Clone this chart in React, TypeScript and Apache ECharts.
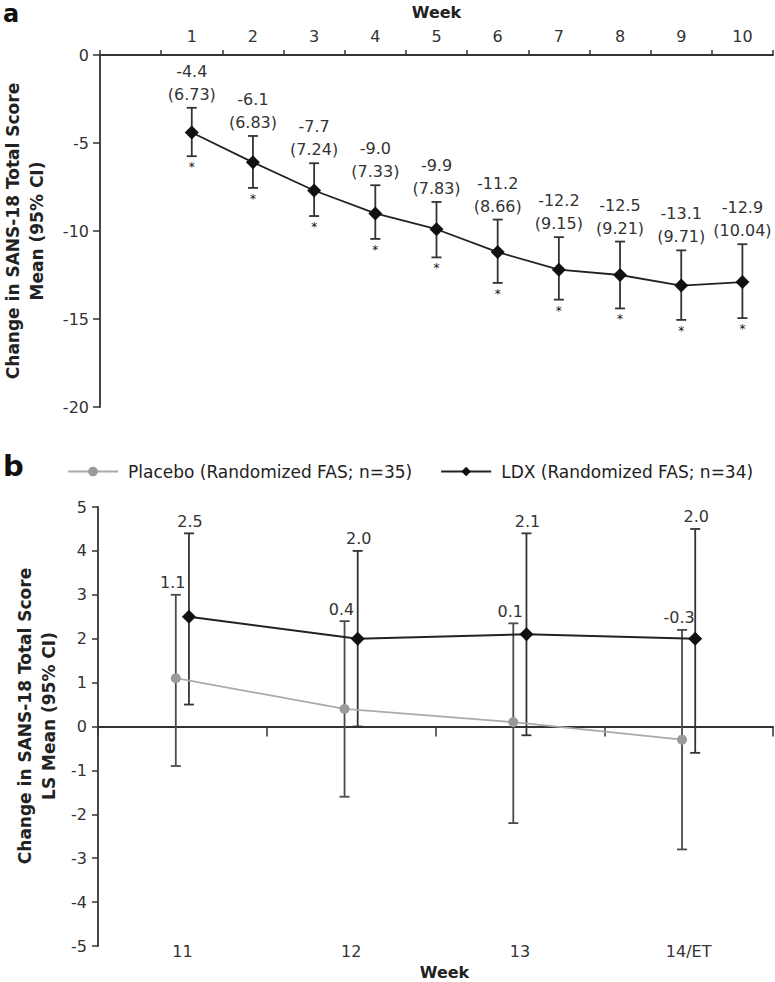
import React, { useEffect, useRef } from "react";
import * as echarts from "echarts";

const FONT = "'DejaVu Sans', sans-serif";

// ---------- Panel a data ----------
const weeksA = ["1", "2", "3", "4", "5", "6", "7", "8", "9", "10"];
const meanA = [-4.4, -6.1, -7.7, -9.0, -9.9, -11.2, -12.2, -12.5, -13.1, -12.9];
const sdA = ["6.73", "6.83", "7.24", "7.33", "7.83", "8.66", "9.15", "9.21", "9.71", "10.04"];
const ciLowA = [-5.75, -7.55, -9.15, -10.45, -11.5, -12.95, -13.9, -14.4, -15.05, -14.95];
const ciHighA = [-3.0, -4.6, -6.15, -7.4, -8.35, -9.35, -10.35, -10.6, -11.1, -10.75];

// ---------- Panel b data ----------
const weeksB = ["11", "12", "13", "14/ET"];
const placeboName = "Placebo (Randomized FAS; n=35)";
const ldxName = "LDX (Randomized FAS; n=34)";
const placeboMean = [1.1, 0.4, 0.1, -0.3];
const placeboLow = [-0.9, -1.6, -2.2, -2.8];
const placeboHigh = [3.0, 2.4, 2.35, 2.2];
const ldxMean = [2.5, 2.0, 2.1, 2.0];
const ldxLow = [0.5, 0.0, -0.2, -0.6];
const ldxHigh = [4.4, 4.0, 4.4, 4.5];
const DODGE = 0.039;

const AXIS_COLOR = "#333";

export default function App() {
  const ref = useRef<HTMLDivElement>(null);

  useEffect(() => {
    document.body.style.margin = "0";
    const chart = echarts.init(ref.current!, null, { renderer: "svg" });

    const errorBars = (
      lows: number[],
      highs: number[],
      color: string,
      labelFn: (i: number) => string,
      labelDx: number,
      labelGap: number,
      lineHeight: number,
      asterisk: boolean
    ) => (params: any, api: any) => {
      const i = params.dataIndex;
      const xv = api.value(0);
      const lo = api.coord([xv, lows[i]]);
      const hi = api.coord([xv, highs[i]]);
      const x = lo[0];
      const cap = 5;
      const style = { stroke: color, lineWidth: 1.8 };
      const children: any[] = [
        { type: "line", shape: { x1: x, y1: lo[1], x2: x, y2: hi[1] }, style },
        { type: "line", shape: { x1: x - cap, y1: lo[1], x2: x + cap, y2: lo[1] }, style },
        { type: "line", shape: { x1: x - cap, y1: hi[1], x2: x + cap, y2: hi[1] }, style },
        {
          type: "text",
          x: x + labelDx,
          y: hi[1] - labelGap,
          style: {
            text: labelFn(i),
            align: "center",
            verticalAlign: "bottom",
            fontSize: 16,
            fontFamily: FONT,
            lineHeight,
            fill: "#333",
          },
        },
      ];
      if (asterisk) {
        children.push({
          type: "text",
          x,
          y: lo[1] + 5,
          style: {
            text: "*",
            align: "center",
            verticalAlign: "top",
            fontSize: 12,
            fontFamily: FONT,
            fill: "#111",
          },
        });
      }
      return { type: "group", children };
    };

    const tickLabel = { fontFamily: FONT, fontSize: 16, color: "#333" };

    chart.setOption({
      animation: false,
      backgroundColor: "#fff",
      grid: [
        { left: 100, top: 55, width: 673, height: 352 },
        { left: 98, top: 507, width: 675, height: 439 },
      ],
      legend: {
        left: 62,
        top: 458,
        width: 713,
        itemWidth: 50,
        itemHeight: 12,
        itemGap: 28,
        textStyle: { fontFamily: FONT, fontSize: 17, color: "#222", padding: [0, 0, 0, 5] },
        data: [placeboName, ldxName],
      },
      xAxis: [
        {
          gridIndex: 0,
          type: "category",
          position: "top",
          data: ["", ...weeksA],
          boundaryGap: true,
          name: "Week",
          nameLocation: "middle",
          nameGap: 35,
          nameTextStyle: { fontFamily: FONT, fontSize: 16, fontWeight: "bold", color: "#222" },
          axisLine: { lineStyle: { color: AXIS_COLOR, width: 1.8 } },
          axisTick: { show: true, length: 5, lineStyle: { color: AXIS_COLOR, width: 1.5 } },
          axisLabel: { ...tickLabel, margin: 11, interval: 0 },
          splitLine: { show: false },
        },
        {
          gridIndex: 1,
          type: "category",
          data: weeksB,
          boundaryGap: true,
          axisLine: { onZero: true, lineStyle: { color: AXIS_COLOR, width: 1.8 } },
          axisTick: { show: true, length: 10, lineStyle: { color: AXIS_COLOR, width: 1.5 } },
          axisLabel: { show: false },
          splitLine: { show: false },
        },
        {
          gridIndex: 1,
          type: "category",
          position: "bottom",
          data: weeksB,
          boundaryGap: true,
          name: "Week",
          nameLocation: "middle",
          nameGap: 18,
          nameTextStyle: {
            fontFamily: FONT,
            fontSize: 16,
            fontWeight: "bold",
            color: "#222",
            padding: [0, 0, 0, 18],
          },
          axisLine: { show: false, onZero: false },
          axisTick: { show: false },
          axisLabel: { ...tickLabel, margin: -3, interval: 0 },
          splitLine: { show: false },
        },
        {
          gridIndex: 1,
          type: "value",
          min: 0.5,
          max: 4.5,
          show: false,
          splitLine: { show: false },
        },
      ],
      yAxis: [
        {
          gridIndex: 0,
          type: "value",
          min: -20,
          max: 0,
          interval: 5,
          axisLine: { show: true, lineStyle: { color: AXIS_COLOR, width: 1.8 } },
          axisTick: { show: true, length: 7, lineStyle: { color: AXIS_COLOR, width: 1.5 } },
          axisLabel: { ...tickLabel, margin: 11 },
          splitLine: { show: false },
        },
        {
          gridIndex: 1,
          type: "value",
          min: -5,
          max: 5,
          interval: 1,
          axisLine: { show: true, onZero: false, lineStyle: { color: AXIS_COLOR, width: 1.8 } },
          axisTick: { show: true, length: 6, lineStyle: { color: AXIS_COLOR, width: 1.5 } },
          axisLabel: { ...tickLabel, margin: 11 },
          splitLine: { show: false },
        },
      ],
      series: [
        // Panel a
        {
          type: "custom",
          xAxisIndex: 0,
          yAxisIndex: 0,
          data: weeksA.map((w, i) => [w, meanA[i]]),
          renderItem: errorBars(
            ciLowA,
            ciHighA,
            "#333",
            (i) => `${meanA[i].toFixed(1)}\n(${sdA[i]})`,
            0,
            2,
            23,
            true
          ),
          z: 1,
        },
        {
          type: "line",
          name: "LDX week 1-10",
          xAxisIndex: 0,
          yAxisIndex: 0,
          data: weeksA.map((w, i) => [w, meanA[i]]),
          symbol: "diamond",
          symbolSize: 14,
          itemStyle: { color: "#111" },
          lineStyle: { color: "#222", width: 1.8 },
          z: 3,
        },
        // Panel b error bars
        {
          type: "custom",
          xAxisIndex: 3,
          yAxisIndex: 1,
          data: weeksB.map((w, i) => [i + 1 - DODGE, placeboMean[i]]),
          renderItem: errorBars(
            placeboLow,
            placeboHigh,
            "#4a4a4a",
            (i) => placeboMean[i].toFixed(1),
            -3,
            3,
            18,
            false
          ),
          z: 1,
        },
        {
          type: "custom",
          xAxisIndex: 3,
          yAxisIndex: 1,
          data: weeksB.map((w, i) => [i + 1 + DODGE, ldxMean[i]]),
          renderItem: errorBars(
            ldxLow,
            ldxHigh,
            "#333",
            (i) => ldxMean[i].toFixed(1),
            1,
            3,
            18,
            false
          ),
          z: 1,
        },
        {
          type: "line",
          name: placeboName,
          xAxisIndex: 3,
          yAxisIndex: 1,
          data: weeksB.map((w, i) => [i + 1 - DODGE, placeboMean[i]]),
          symbol: "circle",
          symbolSize: 10,
          itemStyle: { color: "#9a9a9a" },
          lineStyle: { color: "#aaa", width: 1.8 },
          z: 3,
        },
        {
          type: "line",
          name: ldxName,
          xAxisIndex: 3,
          yAxisIndex: 1,
          data: weeksB.map((w, i) => [i + 1 + DODGE, ldxMean[i]]),
          symbol: "diamond",
          symbolSize: 14,
          itemStyle: { color: "#111" },
          lineStyle: { color: "#222", width: 2 },
          z: 4,
        },
      ],
      graphic: [
        {
          type: "text",
          left: 3,
          top: 2,
          style: { text: "a", fontFamily: FONT, fontSize: 24, fontWeight: "bold", fill: "#111" },
        },
        {
          type: "text",
          left: 3,
          top: 451,
          style: { text: "b", fontFamily: FONT, fontSize: 29, fontWeight: "bold", fill: "#111" },
        },
        {
          type: "text",
          x: 25,
          y: 231,
          rotation: Math.PI / 2,
          style: {
            text: "Change in SANS-18 Total Score\nMean (95% CI)",
            align: "center",
            verticalAlign: "middle",
            fontFamily: FONT,
            fontSize: 17,
            fontWeight: "bold",
            lineHeight: 24,
            fill: "#222",
          },
        },
        {
          type: "text",
          x: 37,
          y: 716,
          rotation: Math.PI / 2,
          style: {
            text: "Change in SANS-18 Total Score\nLS Mean (95% CI)",
            align: "center",
            verticalAlign: "middle",
            fontFamily: FONT,
            fontSize: 17,
            fontWeight: "bold",
            lineHeight: 24,
            fill: "#222",
          },
        },
      ],
    });

    return () => chart.dispose();
  }, []);

  return <div ref={ref} style={{ width: 775, height: 982 }} />;
}
